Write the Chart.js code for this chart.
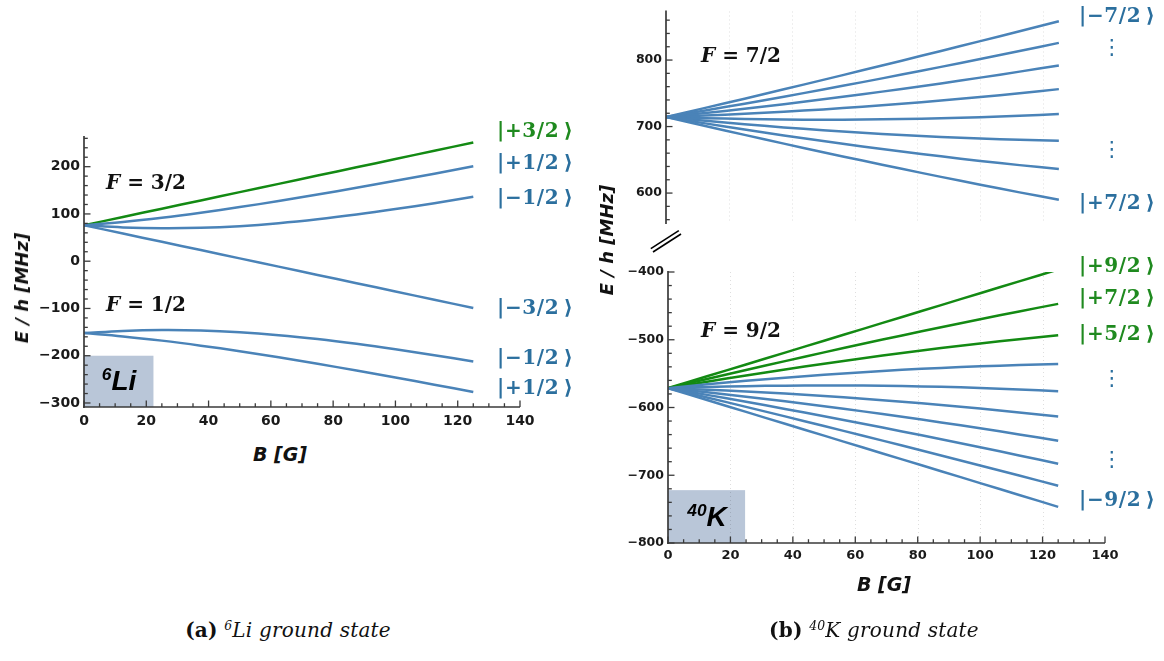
<!DOCTYPE html>
<html><head><meta charset="utf-8">
<script src="https://cdn.jsdelivr.net/npm/chart.js@4.4.1/dist/chart.umd.min.js"></script>
<style>
html,body{margin:0;padding:0;background:#fff}
body{width:1164px;height:661px;position:relative;overflow:hidden}
canvas{position:absolute}
.t{position:absolute;white-space:nowrap;line-height:1}
.ket{font-family:'DejaVu Serif',serif;font-weight:bold;font-size:20px;letter-spacing:0.6px;transform:translateY(-50%)}
.g{color:#1f8a1f}
.b{color:#2b6f9e}
.dots{font-family:'DejaVu Sans',sans-serif;font-size:21px;color:#2b6f9e;transform:translate(-50%,-50%)}
.fl{font-family:'DejaVu Serif',serif;font-weight:bold;font-size:20px;color:#111;transform:translate(-50%,-50%)}
.ax{font-family:'DejaVu Sans',sans-serif;font-weight:bold;font-style:italic;color:#111;transform:translate(-50%,-50%)}
.axv{transform:translate(-50%,-50%) rotate(-90deg)}
.cap{font-family:'DejaVu Serif',serif;font-size:20px;color:#111;transform:translate(-50%,-50%);letter-spacing:0.2px}
.iso{font-family:'Liberation Sans',Arial,sans-serif;font-weight:bold;font-style:italic;font-size:28px;color:#000;transform:translate(-50%,-50%)}
sup{font-size:62%;vertical-align:0.55em;line-height:0}
</style></head><body>
<canvas id="cLi" width="560" height="440" style="left:0px;top:0px"></canvas>
<canvas id="cKt" width="560" height="240" style="left:580px;top:0px"></canvas>
<canvas id="cKb" width="560" height="360" style="left:580px;top:250px"></canvas>

<svg style="position:absolute;left:640px;top:220px" width="60" height="45">
 <line x1="13" y1="32" x2="41" y2="14" stroke="#000" stroke-width="1.6"/>
 <line x1="10.8" y1="28.6" x2="38.8" y2="10.6" stroke="#000" stroke-width="1.6"/>
</svg>

<!-- Li labels -->
<div class="t ket g" style="left:497px;top:130px">|+3/2&#8201;⟩</div>
<div class="t ket b" style="left:497px;top:162px">|+1/2&#8201;⟩</div>
<div class="t ket b" style="left:497px;top:197px">|−1/2&#8201;⟩</div>
<div class="t ket b" style="left:497px;top:307px">|−3/2&#8201;⟩</div>
<div class="t ket b" style="left:497px;top:357px">|−1/2&#8201;⟩</div>
<div class="t ket b" style="left:497px;top:387px">|+1/2&#8201;⟩</div>
<div class="t fl" style="left:146px;top:182px"><i>F</i> = 3/2</div>
<div class="t fl" style="left:146px;top:304px"><i>F</i> = 1/2</div>
<div class="t iso" style="left:119px;top:381px"><sup>6</sup>Li</div>
<div class="t ax axv" style="left:22px;top:288px;font-size:18px">E / h [MHz]</div>
<div class="t ax" style="left:280px;top:454px;font-size:19px">B [G]</div>

<!-- K labels -->
<div class="t ket b" style="left:1079px;top:15px">|−7/2&#8201;⟩</div>
<div class="t dots" style="left:1112px;top:47px">⋮</div>
<div class="t dots" style="left:1112px;top:149px">⋮</div>
<div class="t ket b" style="left:1079px;top:202px">|+7/2&#8201;⟩</div>
<div class="t ket g" style="left:1079px;top:265px">|+9/2&#8201;⟩</div>
<div class="t ket g" style="left:1079px;top:297px">|+7/2&#8201;⟩</div>
<div class="t ket g" style="left:1079px;top:333px">|+5/2&#8201;⟩</div>
<div class="t dots" style="left:1112px;top:378px">⋮</div>
<div class="t dots" style="left:1112px;top:459px">⋮</div>
<div class="t ket b" style="left:1079px;top:499px">|−9/2&#8201;⟩</div>
<div class="t fl" style="left:741px;top:55px"><i>F</i> = 7/2</div>
<div class="t fl" style="left:741px;top:330px"><i>F</i> = 9/2</div>
<div class="t iso" style="left:707px;top:517px"><sup>40</sup>K</div>
<div class="t ax axv" style="left:607px;top:240px;font-size:18px">E / h [MHz]</div>
<div class="t ax" style="left:884px;top:584px;font-size:19px">B [G]</div>

<div class="t cap" style="left:288px;top:630px"><b>(a)</b> <i><sup>6</sup>Li ground state</i></div>
<div class="t cap" style="left:874px;top:630px"><b>(b)</b> <i><sup>40</sup>K ground state</i></div>

<script>
// ---- data ----
const B = [0, 12.5, 25, 37.5, 50, 62.5, 75, 87.5, 100, 112.5, 125];

// 6Li, F = 3/2
const li32_p32 = [76.07, 93.59, 111.10, 128.61, 146.13, 163.64, 181.16, 198.67, 216.18, 233.70, 251.21];
const li32_p12 = [76.07, 83.04, 92.01, 102.60, 114.47, 127.35, 141.01, 155.30, 170.08, 185.25, 200.75];
const li32_m12 = [76.07, 71.48, 69.59, 70.52, 74.21, 80.40, 88.73, 98.81, 110.27, 122.83, 136.24];
const li32_m32 = [76.07, 58.55, 41.04, 23.53, 6.01, -11.50, -29.02, -46.53, -64.04, -81.56, -99.07];
// 6Li, F = 1/2
const li12_m12 = [-152.13, -147.54, -145.65, -146.58, -150.27, -156.46, -164.79, -174.87, -186.33, -198.89, -212.30];
const li12_p12 = [-152.13, -159.10, -168.07, -178.66, -190.53, -203.41, -217.07, -231.36, -246.14, -261.31, -276.81];

// 40K, F = 7/2
const k72_m72 = [714.33, 728.05, 741.94, 756.00, 770.21, 784.58, 799.08, 813.71, 828.46, 843.32, 858.30];
const k72_m52 = [714.33, 724.22, 734.43, 744.94, 755.74, 766.81, 778.14, 789.72, 801.53, 813.57, 825.83];
const k72_m32 = [714.33, 720.38, 726.84, 733.70, 740.95, 748.58, 756.56, 764.90, 773.58, 782.58, 791.90];
const k72_m12 = [714.33, 716.51, 719.16, 722.27, 725.83, 729.84, 734.29, 739.16, 744.46, 750.17, 756.28];
const k72_p12 = [714.33, 712.62, 711.39, 710.63, 710.35, 710.55, 711.24, 712.40, 714.03, 716.14, 718.71];
const k72_p32 = [714.33, 708.71, 703.52, 698.77, 694.49, 690.67, 687.32, 684.46, 682.08, 680.20, 678.82];
const k72_p52 = [714.33, 704.77, 695.55, 686.69, 678.21, 670.12, 662.44, 655.19, 648.37, 642.01, 636.13];
const k72_p72 = [714.33, 700.80, 687.48, 674.37, 661.48, 648.84, 636.46, 624.36, 612.56, 601.07, 589.92];

// 40K, F = 9/2
const k92_p92 = [-571.47, -553.96, -536.44, -518.93, -501.41, -483.90, -466.38, -448.87, -431.35, -413.84, -396.32];
const k92_p72 = [-571.47, -557.94, -544.62, -531.51, -518.62, -505.98, -493.60, -481.50, -469.70, -458.21, -447.06];
const k92_p52 = [-571.47, -561.91, -552.69, -543.83, -535.35, -527.26, -519.58, -512.33, -505.51, -499.15, -493.27];
const k92_p32 = [-571.47, -565.85, -560.66, -555.91, -551.63, -547.81, -544.46, -541.60, -539.22, -537.34, -535.96];
const k92_p12 = [-571.47, -569.76, -568.53, -567.77, -567.49, -567.69, -568.38, -569.54, -571.17, -573.28, -575.85];
const k92_m12 = [-571.47, -573.65, -576.30, -579.41, -582.97, -586.98, -591.43, -596.31, -601.60, -607.31, -613.42];
const k92_m32 = [-571.47, -577.52, -583.98, -590.84, -598.09, -605.72, -613.70, -622.04, -630.72, -639.72, -649.04];
const k92_m52 = [-571.47, -581.36, -591.57, -602.08, -612.88, -623.95, -635.28, -646.86, -658.67, -670.71, -682.97];
const k92_m72 = [-571.47, -585.19, -599.08, -613.14, -627.35, -641.71, -656.21, -670.84, -685.60, -700.46, -715.44];
const k92_m92 = [-571.47, -588.99, -606.50, -624.02, -641.53, -659.05, -676.56, -694.08, -711.59, -729.11, -746.62];

// tick labels
const xTicks = [0, 20, 40, 60, 80, 100, 120, 140];
const liYTicks = [-300, -200, -100, 0, 100, 200];
const kTopYTicks = [600, 700, 800];
const kBotYTicks = [-800, -700, -600, -500, -400];
const kGridX = [20, 40, 60, 80, 100, 120];

// ---- styling ----
const BLUE = '#4a83b8', GREEN = '#138a13', AXIS = '#3a3a3a', BOX = '#b9c6d8';

const pts = arr => B.map((b, i) => ({x: b, y: arr[i]}));
const ds = (arr, color) => ({data: pts(arr), borderColor: color, borderWidth: 2.5,
  pointRadius: 0, tension: 0.4, fill: false, borderCapStyle: 'butt'});

const axesPlugin = {
  id: 'axes',
  beforeDatasetsDraw(chart, args, o) {
    const {ctx, chartArea: a, scales: {x, y}} = chart;
    ctx.save();
    if (o.box) {
      const x1 = x.getPixelForValue(o.box.x1), x2 = x.getPixelForValue(o.box.x2);
      const y1 = y.getPixelForValue(o.box.y1);
      ctx.fillStyle = BOX;
      ctx.fillRect(x1, y1, x2 - x1, a.bottom - y1);
    }
    if (o.grid) {
      ctx.strokeStyle = 'rgba(0,0,0,0.13)';
      ctx.lineWidth = 1;
      ctx.setLineDash([1, 3]);
      o.grid.forEach(v => {
        const px = Math.round(x.getPixelForValue(v)) + 0.5;
        ctx.beginPath(); ctx.moveTo(px, a.top); ctx.lineTo(px, a.bottom); ctx.stroke();
      });
      ctx.setLineDash([]);
    }
    ctx.restore();
  },
  afterDatasetsDraw(chart, args, o) {
    const {ctx, chartArea: a, scales: {x, y}} = chart;
    ctx.save();
    ctx.strokeStyle = AXIS;
    ctx.lineWidth = 1.7;
    ctx.beginPath(); ctx.moveTo(a.left, a.top - 1); ctx.lineTo(a.left, a.bottom + 1); ctx.stroke();
    ctx.lineWidth = 1.3;
    const yMin = Math.ceil(y.min / 20) * 20;
    for (let v = yMin; v <= y.max; v += 20) {
      const py = y.getPixelForValue(v);
      const L = (v % 100 === 0) ? 6.5 : 3.8;
      ctx.beginPath(); ctx.moveTo(a.left, py); ctx.lineTo(a.left + L, py); ctx.stroke();
    }
    if (o.xAxis) {
      ctx.lineWidth = 1.7;
      ctx.beginPath(); ctx.moveTo(a.left - 1, a.bottom); ctx.lineTo(a.right, a.bottom); ctx.stroke();
      ctx.lineWidth = 1.3;
      for (let v = 0; v <= x.max; v += 5) {
        const px = x.getPixelForValue(v);
        const L = (v % 20 === 0) ? 6.5 : 3.8;
        ctx.beginPath(); ctx.moveTo(px, a.bottom); ctx.lineTo(px, a.bottom - L); ctx.stroke();
      }
    }
    ctx.restore();
  }
};

const fmt = v => v < 0 ? '\u2212' + Math.abs(v) : String(v);

function makeOptions(c) {
  return {
    responsive: false, animation: false, events: [],
    layout: {padding: c.pad},
    plugins: {legend: {display: false}, tooltip: {enabled: false}, axes: c.axes},
    scales: {
      x: {
        type: 'linear', min: 0, max: 140, display: c.showX,
        grid: {display: false, drawTicks: false}, border: {display: false},
        ticks: {font: {family: 'DejaVu Sans', weight: 'bold', size: c.xFont}, color: '#1a1a1a',
          padding: c.xPad, maxRotation: 0, autoSkip: false, callback: fmt},
        afterBuildTicks: s => { s.ticks = xTicks.map(v => ({value: v})); },
        afterFit: s => { s.height = c.xH; }
      },
      y: {
        type: 'linear', min: c.yMin, max: c.yMax,
        grid: {display: false, drawTicks: false}, border: {display: false},
        ticks: {font: {family: 'DejaVu Sans', weight: 'bold', size: c.yFont}, color: '#1a1a1a',
          padding: 4, autoSkip: false, callback: fmt},
        afterBuildTicks: s => { s.ticks = c.yTicks.map(v => ({value: v})); },
        afterFit: s => { s.width = c.yW; }
      }
    }
  };
}

new Chart(document.getElementById('cLi'), {
  type: 'line',
  data: {datasets: [
    ds(li32_p12, BLUE), ds(li32_m12, BLUE), ds(li32_m32, BLUE),
    ds(li12_m12, BLUE), ds(li12_p12, BLUE), ds(li32_p32, GREEN)
  ]},
  options: makeOptions({pad: {top: 137, right: 40, bottom: 3, left: 0}, yW: 84, xH: 30,
    yMin: -308.5, yMax: 262.8, yTicks: liYTicks, showX: true, xFont: 14, yFont: 14, xPad: 6,
    axes: {xAxis: true, box: {x1: 0, x2: 22.3, y1: -200}}}),
  plugins: [axesPlugin]
});

new Chart(document.getElementById('cKt'), {
  type: 'line',
  data: {datasets: [
    ds(k72_m72, BLUE), ds(k72_m52, BLUE), ds(k72_m32, BLUE), ds(k72_m12, BLUE),
    ds(k72_p12, BLUE), ds(k72_p32, BLUE), ds(k72_p52, BLUE), ds(k72_p72, BLUE)
  ]},
  options: makeOptions({pad: {top: 5, right: 34, bottom: 17, left: 0}, yW: 86, xH: 0,
    yMin: 555, yMax: 873, yTicks: kTopYTicks, showX: false, xFont: 13, yFont: 12.5, xPad: 5,
    axes: {xAxis: false, grid: kGridX}}),
  plugins: [axesPlugin]
});

new Chart(document.getElementById('cKb'), {
  type: 'line',
  data: {datasets: [
    ds(k92_p32, BLUE), ds(k92_p12, BLUE), ds(k92_m12, BLUE), ds(k92_m32, BLUE),
    ds(k92_m52, BLUE), ds(k92_m72, BLUE), ds(k92_m92, BLUE),
    ds(k92_p92, GREEN), ds(k92_p72, GREEN), ds(k92_p52, GREEN)
  ]},
  options: makeOptions({pad: {top: 22, right: 35, bottom: 39, left: 0}, yW: 88, xH: 28,
    yMin: -800, yMax: -400, yTicks: kBotYTicks, showX: true, xFont: 13, yFont: 12.5, xPad: 5,
    axes: {xAxis: true, grid: kGridX, box: {x1: 0, x2: 24.7, y1: -722}}}),
  plugins: [axesPlugin]
});
</script>
</body></html>
